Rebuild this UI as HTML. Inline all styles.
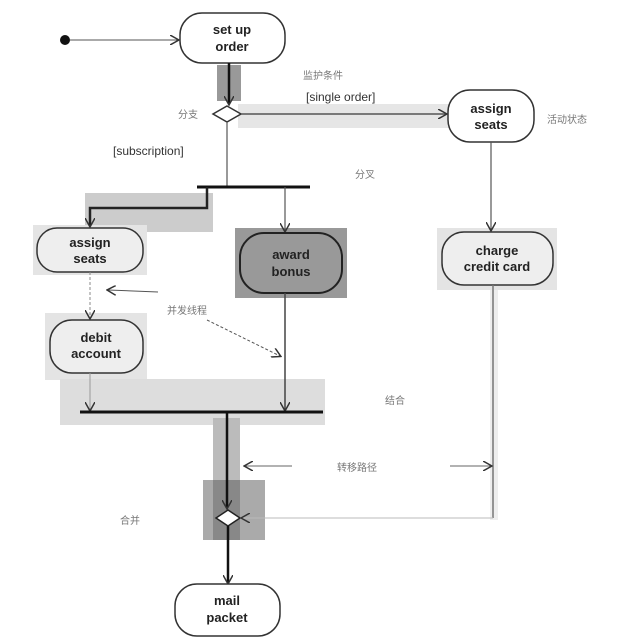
<!DOCTYPE html>
<html><head><meta charset="utf-8"><style>
html,body{margin:0;padding:0;background:#fff}
svg{display:block}
text{font-family:"Liberation Sans","Noto Sans CJK SC",sans-serif;fill:#333}
.n{font-size:13px;text-anchor:middle;fill:#222;font-weight:bold}
.c{font-size:10px;fill:#777}
</style></head><body>
<svg width="640" height="640" viewBox="0 0 640 640">
<defs>
<marker id="a" markerWidth="10" markerHeight="10" refX="8" refY="5" orient="auto" markerUnits="userSpaceOnUse"><path d="M0,0 L9,5 L0,10" fill="none" stroke="#333" stroke-width="1.5"/></marker>
</defs>
<!-- gray bands -->
<rect x="217" y="65" width="24" height="36" fill="#999"/>
<rect x="238" y="104" width="212" height="24" fill="#e6e6e6"/>
<rect x="85" y="193" width="128" height="39" fill="#ccc"/>
<rect x="33" y="225" width="114" height="50" fill="#e4e4e4"/>
<rect x="235" y="228" width="112" height="70" fill="#999"/>
<rect x="437" y="228" width="120" height="62" fill="#e4e4e4"/>
<rect x="45" y="313" width="102" height="67" fill="#e4e4e4"/>
<rect x="60" y="379" width="265" height="46" fill="#ddd"/>
<rect x="213" y="418" width="27" height="65" fill="#bbb"/>
<rect x="203" y="480" width="62" height="60" fill="#aaa"/>
<rect x="213" y="480" width="27" height="60" fill="#888"/>
<rect x="490" y="290" width="8" height="230" fill="#eee"/>

<!-- start -->
<circle cx="65" cy="40" r="5" fill="#111"/>
<line x1="70" y1="40" x2="178" y2="40" stroke="#555" stroke-width="1" marker-end="url(#a)"/>
<!-- set up order -->
<rect x="180" y="13" width="105" height="50" rx="22" fill="#fff" stroke="#333" stroke-width="1.5"/>
<text class="n" x="232" y="34">set up</text><text class="n" x="232" y="51">order</text>
<line x1="229" y1="63" x2="229" y2="104" stroke="#111" stroke-width="2.5" marker-end="url(#a)"/>
<!-- diamond -->
<polygon points="227,106 241,114 227,122 213,114" fill="#fff" stroke="#333" stroke-width="1.5"/>
<text class="c" x="178" y="118">分支</text>
<line x1="241" y1="114" x2="446" y2="114" stroke="#555" stroke-width="1.5" marker-end="url(#a)"/>
<text class="c" x="303" y="79">监护条件</text>
<text x="306" y="101" font-size="12" fill="#333">[single order]</text>
<text x="113" y="155" font-size="12" fill="#333">[subscription]</text>
<!-- assign seats right -->
<rect x="448" y="90" width="86" height="52" rx="22" fill="#fff" stroke="#333" stroke-width="1.5"/>
<text class="n" x="491" y="113">assign</text><text class="n" x="491" y="129">seats</text>
<text class="c" x="547" y="123">活动状态</text>
<line x1="227" y1="122" x2="227" y2="187" stroke="#555" stroke-width="1.2"/>
<!-- fork -->
<line x1="197" y1="187" x2="310" y2="187" stroke="#111" stroke-width="3"/>
<text class="c" x="355" y="178">分叉</text>
<polyline points="207,187 207,208 90,208 90,226" fill="none" stroke="#222" stroke-width="2.5" marker-end="url(#a)"/>
<line x1="285" y1="187" x2="285" y2="231" stroke="#555" stroke-width="1.2" marker-end="url(#a)"/>
<line x1="491" y1="142" x2="491" y2="230" stroke="#555" stroke-width="1.2" marker-end="url(#a)"/>
<!-- assign seats left -->
<rect x="37" y="228" width="106" height="44" rx="20" fill="#eee" stroke="#333" stroke-width="1.5"/>
<text class="n" x="90" y="247">assign</text><text class="n" x="90" y="263">seats</text>
<!-- award bonus -->
<rect x="240" y="233" width="102" height="60" rx="24" fill="#999" stroke="#222" stroke-width="2"/>
<text class="n" x="291" y="259">award</text><text class="n" x="291" y="276">bonus</text>
<!-- charge -->
<rect x="442" y="232" width="111" height="53" rx="22" fill="#eee" stroke="#333" stroke-width="1.5"/>
<text class="n" x="497" y="255">charge</text><text class="n" x="497" y="271">credit card</text>
<!-- concurrency -->
<line x1="90" y1="272" x2="90" y2="318" stroke="#888" stroke-width="1" stroke-dasharray="3,2" marker-end="url(#a)"/>
<line x1="158" y1="292" x2="108" y2="290" stroke="#555" stroke-width="1" marker-end="url(#a)"/>
<text class="c" x="167" y="314">并发线程</text>
<line x1="207" y1="320" x2="280" y2="356" stroke="#555" stroke-width="1" stroke-dasharray="3,2" marker-end="url(#a)"/>
<!-- debit -->
<rect x="50" y="320" width="93" height="53" rx="22" fill="#eee" stroke="#333" stroke-width="1.5"/>
<text class="n" x="96" y="342">debit</text><text class="n" x="96" y="358">account</text>
<line x1="90" y1="373" x2="90" y2="410" stroke="#999" stroke-width="1" marker-end="url(#a)"/>
<line x1="285" y1="293" x2="285" y2="410" stroke="#444" stroke-width="1.5" marker-end="url(#a)"/>
<!-- join -->
<line x1="80" y1="412" x2="323" y2="412" stroke="#111" stroke-width="3"/>
<text class="c" x="385" y="404">结合</text>
<line x1="227" y1="412" x2="227" y2="508" stroke="#111" stroke-width="2.5" marker-end="url(#a)"/>
<!-- charge down -->
<line x1="493" y1="285" x2="493" y2="518" stroke="#777" stroke-width="1.5"/>
<line x1="292" y1="466" x2="245" y2="466" stroke="#666" stroke-width="1" marker-end="url(#a)"/>
<text class="c" x="337" y="471">转移路径</text>
<line x1="450" y1="466" x2="491" y2="466" stroke="#666" stroke-width="1" marker-end="url(#a)"/>
<!-- merge -->
<polygon points="228,510 240,518 228,526 216,518" fill="#fff" stroke="#222" stroke-width="1.5"/>
<line x1="493" y1="518" x2="242" y2="518" stroke="#bbb" stroke-width="1" marker-end="url(#a)"/>
<text class="c" x="120" y="524">合并</text>
<line x1="228" y1="526" x2="228" y2="583" stroke="#111" stroke-width="2.5" marker-end="url(#a)"/>
<!-- mail packet -->
<rect x="175" y="584" width="105" height="52" rx="22" fill="#fff" stroke="#333" stroke-width="1.5"/>
<text class="n" x="227" y="605">mail</text><text class="n" x="227" y="622">packet</text>
</svg>
</body></html>
